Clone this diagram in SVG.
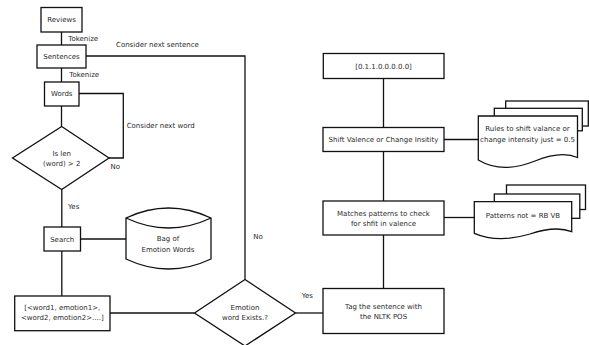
<svg xmlns="http://www.w3.org/2000/svg" width="589" height="345" viewBox="0 0 589 345">
  <style>
    .box { fill: #fff; stroke: #111; stroke-width: 1.3; }
    .ln { fill: none; stroke: #111; stroke-width: 1.3; }
    text { font-family: "DejaVu Sans", "Liberation Sans", sans-serif; font-size: 7px; fill: #2a2a2a; }
    .c { text-anchor: middle; }
  </style>
  <rect width="589" height="345" fill="#fff"/>

  <!-- connectors -->
  <g id="connectors">
    <line class="ln" x1="61.5" y1="32" x2="61.5" y2="45"/>
    <line class="ln" x1="61.5" y1="68" x2="61.5" y2="82"/>
    <line class="ln" x1="61.5" y1="106" x2="61.5" y2="126.5"/>
    <polyline class="ln" points="79,93.5 123.3,93.5 123.3,158 109,158"/>
    <polyline class="ln" points="86,56 245,56 245,279.5"/>
    <line class="ln" x1="61.8" y1="189.5" x2="61.8" y2="227"/>
    <line class="ln" x1="80.5" y1="239" x2="126" y2="239"/>
    <line class="ln" x1="61.8" y1="251" x2="61.8" y2="296"/>
    <line class="ln" x1="110" y1="313" x2="194.5" y2="313"/>
    <line class="ln" x1="295.5" y1="313" x2="323" y2="313"/>
    <line class="ln" x1="383.5" y1="288.5" x2="383.5" y2="235"/>
    <line class="ln" x1="383.5" y1="201" x2="383.5" y2="151.5"/>
    <line class="ln" x1="383.5" y1="127.5" x2="383.5" y2="78.5"/>
    <line class="ln" x1="444" y1="139.5" x2="478" y2="139.5"/>
    <line class="ln" x1="444" y1="217.5" x2="474.3" y2="217.5"/>
    <text x="68.3" y="40.8">Tokenize</text>
    <text x="69.3" y="76.8">Tokenize</text>
    <text x="116" y="46.8">Consider next sentence</text>
    <text x="126.7" y="127.5">Consider next word</text>
    <text x="110.5" y="169">No</text>
    <text x="68" y="208.5">Yes</text>
    <text x="253.3" y="239.2">No</text>
    <text x="301.7" y="298.2">Yes</text>
  </g>

  <g id="reviews">
    <rect class="box" x="41" y="7.5" width="41" height="24.5"/>
    <text class="c" x="61.5" y="22">Reviews</text>
  </g>
  <g id="sentences">
    <rect class="box" x="37" y="45" width="49" height="23"/>
    <text class="c" x="61.5" y="59">Sentences</text>
  </g>
  <g id="words">
    <rect class="box" x="44.5" y="82" width="34.5" height="24"/>
    <text class="c" x="61.7" y="96">Words</text>
  </g>
  <g id="len-check">
    <polygon class="box" points="61.7,126.5 109,158 61.7,189.5 12.5,158"/>
    <text class="c" x="61.7" y="155.5">Is len</text>
    <text class="c" x="61.7" y="165.8">(word) &gt; 2</text>
  </g>
  <g id="search">
    <rect class="box" x="44" y="227" width="36.5" height="24"/>
    <text class="c" x="62.2" y="241.5">Search</text>
  </g>
  <g id="emotion-bag">
    <path class="box" d="M126,218 Q168.5,198 211,218 L211,259 Q168.5,279 126,259 Z"/>
    <path class="ln" d="M126,218 Q168.5,238 211,218"/>
    <text class="c" x="168" y="240.5">Bag of</text>
    <text class="c" x="168" y="251.5">Emotion Words</text>
  </g>
  <g id="word-list">
    <rect class="box" x="14.7" y="296" width="95.3" height="34.7"/>
    <text class="c" x="62.3" y="310.2">[&lt;word1, emotion1&gt;,</text>
    <text class="c" x="62.3" y="320.2">&lt;word2, emotion2&gt;....]</text>
  </g>
  <g id="emotion-check">
    <polygon class="box" points="245,279.5 295.5,313 245,346 194.5,313"/>
    <text class="c" x="245" y="310.2">Emotion</text>
    <text class="c" x="245" y="320.2">word Exists.?</text>
  </g>
  <g id="pos-tag">
    <rect class="box" x="323" y="288.5" width="121" height="45"/>
    <text class="c" x="383.5" y="309.2">Tag the sentence with</text>
    <text class="c" x="383.5" y="319.2">the NLTK POS</text>
  </g>
  <g id="pattern-match">
    <rect class="box" x="323" y="201" width="121" height="34"/>
    <text class="c" x="383.5" y="215.8">Matches patterns to check</text>
    <text class="c" x="383.5" y="225.8">for shfit in valence</text>
  </g>
  <g id="valence-shift">
    <rect class="box" x="323" y="127.5" width="121" height="24"/>
    <text class="c" x="383.5" y="142">Shift Valence or Change Insitity</text>
  </g>
  <g id="vector">
    <rect class="box" x="323.3" y="53.5" width="120.7" height="25"/>
    <text class="c" x="383.5" y="68.5">[0.1.1.0.0.0.0.0]</text>
  </g>
  <g id="shift-rules">
    <rect class="box" x="505.7" y="101" width="82.6" height="25"/>
    <rect class="box" x="494.3" y="108.3" width="88" height="22.5"/>
    <path class="box" d="M478.3,116 L577.5,116 L577.5,157.5 C565,152 550,155 535,161 C515,169 495,170 478.3,160 Z"/>
    <text class="c" x="527.5" y="131.3">Rules to shift valance or</text>
    <text class="c" x="527.5" y="141.5">change intensity just = 0.5</text>
  </g>
  <g id="pattern-rules">
    <rect class="box" x="506.5" y="185" width="79" height="24.5"/>
    <rect class="box" x="494.3" y="194" width="85.5" height="24.3"/>
    <path class="box" d="M474.3,201.7 L571.7,201.7 L571.7,231.7 C560,227 545,229 530,234 C510,240 492,241 474.3,233.3 Z"/>
    <text class="c" x="523" y="218">Patterns not = RB VB</text>
  </g>
</svg>
